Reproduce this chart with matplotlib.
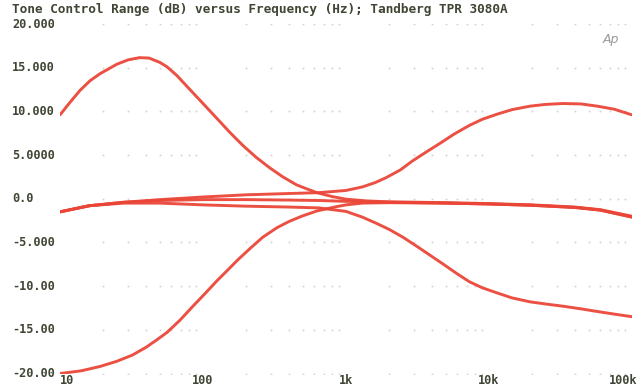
import numpy as np
import matplotlib
matplotlib.use("Agg")
import matplotlib.pyplot as plt
from matplotlib.transforms import blended_transform_factory

title = "Tone Control Range (dB) versus Frequency (Hz); Tandberg TPR 3080A"

y_ticks = [20, 15, 10, 5, 0, -5, -10, -15, -20]
y_labels = ["20.000", "15.000", "10.000", "5.0000", "0.0", "-5.000", "-10.00", "-15.00", "-20.00"]
x_ticks = [10, 100, 1000, 10000, 100000]
x_labels = ["10", "100", "1k", "10k", "100k"]

bass_boost_f = [10, 11.7, 13.8, 16.2, 19, 25, 30, 36, 42, 50, 56, 65.7, 81, 100, 125, 154, 190, 237,
                295, 362, 450, 500, 625, 800, 1000, 1400, 2000, 5000, 10000, 20000, 40000, 60000, 100000]
bass_boost_db = [9.6, 11.0, 12.4, 13.5, 14.3, 15.4, 15.9, 16.15, 16.1, 15.6, 15.1, 14.1, 12.5, 10.9, 9.2, 7.6, 6.1, 4.7,
                 3.5, 2.5, 1.6, 1.3, 0.7, 0.25, -0.05, -0.25, -0.35, -0.45, -0.55, -0.7, -0.95, -1.25, -2.0]

bass_cut_f = [10, 14, 19, 25, 32, 40, 48, 56, 69, 85, 100, 125, 146, 175, 213, 262, 330, 400,
              490, 625, 860, 1000, 1300, 2000, 5000, 10000, 20000, 40000, 60000, 100000]
bass_cut_db = [-20, -19.7, -19.2, -18.6, -17.9, -17.0, -16.1, -15.3, -13.9, -12.3, -11.1, -9.4, -8.3, -7.0, -5.7,
               -4.4, -3.3, -2.6, -2.0, -1.4, -0.9, -0.7, -0.5, -0.45, -0.5, -0.6, -0.75, -1.0, -1.3, -2.1]

treble_boost_f = [10, 16, 28, 50, 100, 200, 400, 650, 1000, 1300, 1600, 1900, 2400, 2900, 3600, 4500, 5700,
                  7300, 9000, 11500, 14500, 19400, 25000, 33000, 44000, 57000, 75000, 100000]
treble_boost_db = [-1.5, -0.8, -0.4, -0.1, 0.2, 0.45, 0.6, 0.7, 0.95, 1.35, 1.85, 2.4, 3.3, 4.3, 5.3, 6.3, 7.4,
                   8.4, 9.1, 9.7, 10.2, 10.6, 10.8, 10.9, 10.85, 10.6, 10.25, 9.6]

treble_cut_f = [10, 16, 28, 50, 100, 200, 400, 650, 1000, 1300, 1600, 2000, 2500, 3100, 3900, 4800, 6000,
                7300, 9000, 11500, 14500, 19400, 25000, 33000, 44000, 57000, 75000, 100000]
treble_cut_db = [-1.5, -0.8, -0.5, -0.5, -0.7, -0.85, -0.95, -1.05, -1.45, -2.1, -2.75, -3.5, -4.4, -5.4, -6.5,
                 -7.5, -8.6, -9.5, -10.2, -10.8, -11.35, -11.8, -12.05, -12.3, -12.6, -12.9, -13.2, -13.5]

flat_f = [10, 16, 28, 50, 100, 200, 400, 650, 1000, 2000, 5000, 10000, 20000, 40000, 60000, 100000]
flat_db = [-1.5, -0.8, -0.4, -0.2, -0.1, -0.1, -0.15, -0.2, -0.3, -0.4, -0.5, -0.6, -0.75, -1.0, -1.3, -2.1]

W, H = 638, 392
fig = plt.figure(figsize=(W / 100, H / 100), dpi=100)
fig.patch.set_facecolor("white")
left, right = 60 / W, 632 / W
top, bottom = 1 - 24 / H, 1 - 373.5 / H
ax = fig.add_axes([left, bottom, right - left, top - bottom])
ax.set_xscale("log")
ax.set_xlim(10, 100000)
ax.set_ylim(-20, 20)
ax.axis("off")

text_color = "#3f4634"
font = dict(family="DejaVu Sans Mono", weight="bold", color=text_color)

# dotted grid marks
for yv in y_ticks:
    xs = []
    for dec in [10, 100, 1000, 10000]:
        for k in range(2, 10):
            xs.append(dec * k)
    ax.plot(xs, [yv] * len(xs), ls="none", marker="s", ms=1.2, color="#9a9a90", alpha=0.45, mew=0)

line_color = "#ea4638"
for f, d in [(flat_f, flat_db), (treble_cut_f, treble_cut_db), (treble_boost_f, treble_boost_db),
             (bass_cut_f, bass_cut_db), (bass_boost_f, bass_boost_db)]:
    ax.plot(f, d, color=line_color, lw=2.1, alpha=0.95, solid_capstyle="round", solid_joinstyle="round")

# title
fig.text(12 / W, 1 - 10 / H, title, ha="left", va="center", fontsize=9.2, **font)

# y labels
tr = blended_transform_factory(fig.transFigure, ax.transData)
for yv, lab in zip(y_ticks, y_labels):
    ax.text(12 / W, yv, lab, transform=tr, ha="left", va="center", fontsize=8.6, clip_on=False, **font)

# x labels
trx = blended_transform_factory(ax.transData, fig.transFigure)
for xv, lab in zip(x_ticks, x_labels):
    if xv == x_ticks[0]:
        ax.text(xv, 1 - 381 / H, lab, transform=trx, ha="left", va="center", fontsize=8.6, clip_on=False, **font)
    elif xv == x_ticks[-1]:
        fig.text(637 / W, 1 - 381 / H, lab, ha="right", va="center", fontsize=8.6, **font)
    else:
        ax.text(xv, 1 - 381 / H, lab, transform=trx, ha="center", va="center", fontsize=8.6, clip_on=False, **font)

# logo
fig.text(603 / W, 1 - 40 / H, "Ap", ha="left", va="center", fontsize=9, color="#9a9a9a",
         style="italic", family="DejaVu Sans")

fig.savefig("out.png", dpi=100, facecolor="white")
